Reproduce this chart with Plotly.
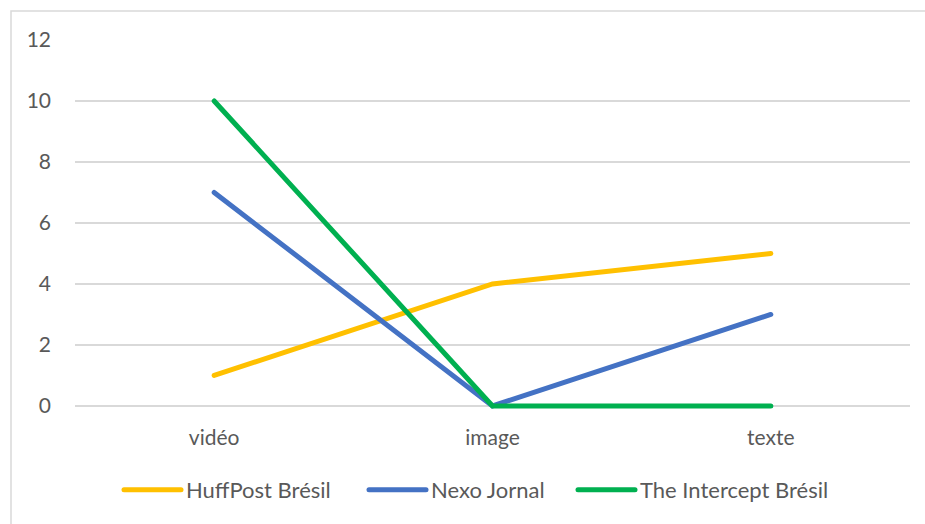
import plotly.graph_objects as go

categories = ["vidéo", "image", "texte"]
huffpost = [1, 4, 5]
nexo = [7, 0, 3]
intercept = [10, 0, 0]
y_ticks = [0, 2, 4, 6, 8, 10, 12]

series = [
    ("HuffPost Brésil", huffpost, "#FFC000", "legend", 119),
    ("Nexo Jornal", nexo, "#4472C4", "legend2", 364),
    ("The Intercept Brésil", intercept, "#00B050", "legend3", 573),
]

W, H = 925, 524
ml, mr, mt, mb = 75, 15, 40, 115
pw = W - ml - mr
ph = H - mt - mb

def px_x(p):
    return (p - ml) / pw

def px_y(p):
    return (H - mb - p) / ph

FONT = "Lato, Open Sans, sans-serif"
font = dict(family=FONT, size=21, color="#595959")
legend_font = dict(family=FONT, size=22, color="#595959")

fig = go.Figure()
legends = {}
for name, vals, color, lg, lx in series:
    fig.add_trace(go.Scatter(
        x=categories, y=vals, name=name, mode="lines",
        line=dict(color=color, width=5), legend=lg,
    ))
    legends[lg] = dict(orientation="h", x=px_x(lx), xanchor="left",
                       y=px_y(490), yanchor="middle", font=legend_font,
                       itemwidth=57, bgcolor="rgba(0,0,0,0)")

fig.add_shape(type="rect", xref="paper", yref="paper",
              x0=px_x(11), x1=px_x(940), y0=px_y(11), y1=px_y(540),
              line=dict(color="#D9D9D9", width=1.5), fillcolor="rgba(0,0,0,0)", layer="below")

fig.update_layout(
    width=W, height=H,
    margin=dict(l=ml, r=mr, t=mt, b=mb),
    paper_bgcolor="white", plot_bgcolor="white",
    font=font,
    showlegend=True,
    xaxis=dict(range=[-0.5, 2.5], showgrid=False, zeroline=False, showline=False,
               ticks="", tickfont=font, ticklabelstandoff=14),
    yaxis=dict(range=[-0.1, 12], tickvals=y_ticks, showgrid=True, gridcolor="#D9D9D9",
               gridwidth=1.5, zeroline=False, showline=False, ticks="", tickfont=font,
               ticklabelstandoff=23),
    **legends,
)

fig.write_html("out.html", config={"displayModeBar": False},
               post_script="document.body.style.margin='0';document.body.style.overflow='hidden';"
                           "document.querySelectorAll('.scatterlayer path.js-line, .legendlines path')"
                           ".forEach(function(p){p.style.strokeLinecap='round';});")
